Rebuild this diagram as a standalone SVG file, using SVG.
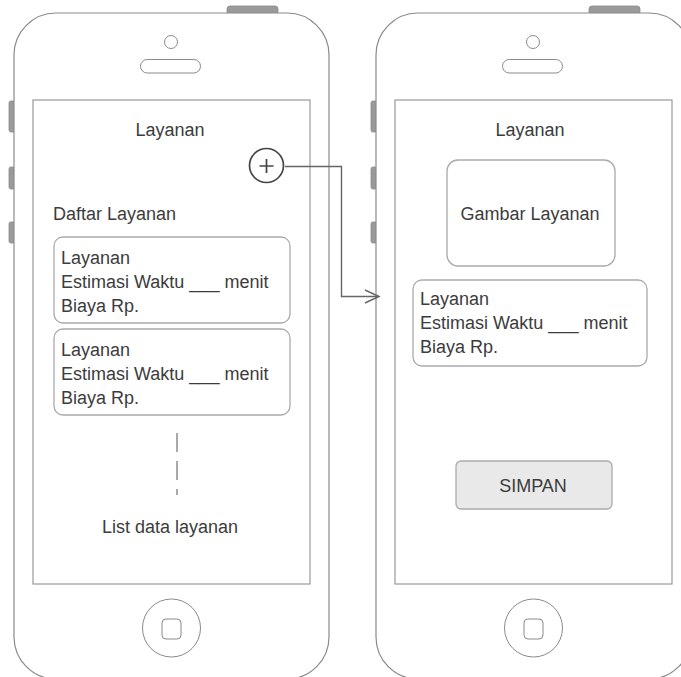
<svg xmlns="http://www.w3.org/2000/svg" width="681" height="677" viewBox="0 0 681 677">
<style>
.body{fill:#fff;stroke:#8a8a8a;stroke-width:1.2}
.btn{fill:#9a9a9a;stroke:#8a8a8a;stroke-width:0.8}
.thin{fill:#fff;stroke:#8a8a8a;stroke-width:1}
.screen{fill:#fff;stroke:#999;stroke-width:1.2}
.card{fill:#fff;stroke:#aaa;stroke-width:1.3}
.t{font-family:"Liberation Sans",Arial,sans-serif;font-size:18px;fill:#3c3c3c}
.c{text-anchor:middle}
.conn{fill:none;stroke:#666;stroke-width:1.4}
</style>
<defs>
<g id="phone">
<rect class="btn" x="227" y="6" width="51" height="9" rx="3"/>
<rect class="btn" x="9" y="101" width="6" height="31" rx="2"/>
<rect class="btn" x="9" y="167" width="6" height="22" rx="2"/>
<rect class="btn" x="9" y="222" width="6" height="21" rx="2"/>
<rect class="body" x="14" y="13" width="315" height="666" rx="42"/>
<circle class="thin" cx="171" cy="42" r="6.5"/>
<rect class="thin" x="140.5" y="59.5" width="60" height="13.5" rx="6.75"/>
<rect class="screen" x="33" y="100" width="277" height="484"/>
<circle class="thin" cx="171.5" cy="628" r="29"/>
<rect class="thin" x="162" y="619" width="19" height="20" rx="4"/>
</g>
</defs>
<g id="phone-list">
<use href="#phone"/>
<text class="t c" x="170" y="136">Layanan</text>
<g id="add-button">
<circle cx="266.5" cy="165.5" r="17" fill="#fff" stroke="#444" stroke-width="1.7"/>
<path d="M259.5 166H273.5M266.5 159V173" stroke="#444" stroke-width="1.7" fill="none"/>
</g>
<text class="t" x="53" y="220">Daftar Layanan</text>
<g id="item-1">
<rect class="card" x="54" y="237" width="236" height="86" rx="9"/>
<text class="t" x="61" y="263.5">Layanan</text>
<text class="t" x="61" y="287.5">Estimasi Waktu ___ menit</text>
<text class="t" x="61" y="311.5">Biaya Rp.</text>
</g>
<g id="item-2">
<rect class="card" x="54" y="329" width="236" height="86" rx="9"/>
<text class="t" x="61" y="355.5">Layanan</text>
<text class="t" x="61" y="379.5">Estimasi Waktu ___ menit</text>
<text class="t" x="61" y="403.5">Biaya Rp.</text>
</g>
<path d="M177 433V495" stroke="#555" stroke-width="1" stroke-dasharray="19 9" fill="none"/>
<text class="t c" x="170" y="533">List data layanan</text>
</g>
<g id="phone-add">
<use href="#phone" x="362"/>
<text class="t c" x="530" y="136">Layanan</text>
<g id="image-box">
<rect class="card" x="447" y="160" width="168" height="106" rx="11"/>
<text class="t c" x="530" y="220">Gambar Layanan</text>
</g>
<g id="form-box">
<rect class="card" x="413" y="280" width="234" height="86" rx="9"/>
<text class="t" x="420" y="305">Layanan</text>
<text class="t" x="420" y="329">Estimasi Waktu ___ menit</text>
<text class="t" x="420" y="353">Biaya Rp.</text>
</g>
<g id="save-button">
<rect x="456" y="461" width="156" height="48" rx="5" fill="#e9e9e9" stroke="#aaa" stroke-width="1.3"/>
<text class="t c" x="533" y="492">SIMPAN</text>
</g>
</g>
<g id="connectors">
<path class="conn" d="M285 166.5H341.5V296.5H379"/>
<path class="conn" d="M365 290L379 296.5L365 303"/>
</g>
</svg>
